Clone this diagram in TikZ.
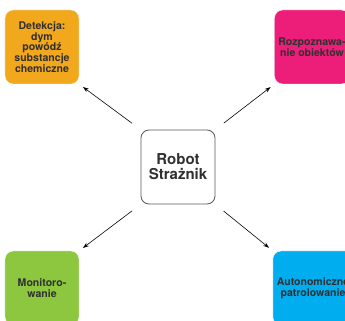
\documentclass[tikz,border=0pt]{standalone}
\usepackage{fontspec}
\setmainfont{TeX Gyre Heros}
\usetikzlibrary{arrows.meta}
\definecolor{detcol}{HTML}{F2A81D}
\definecolor{rozcol}{HTML}{EC1E79}
\definecolor{moncol}{HTML}{8DC63F}
\definecolor{autcol}{HTML}{00AEEF}
\definecolor{txtcol}{HTML}{303030}
\begin{document}
\begin{tikzpicture}[x=0.03cm, y=-0.03cm,
	topic/.style={rectangle, rounded corners=0.24cm, minimum size=2.22cm, draw=white, line width=0.4pt,
		align=center, text=txtcol, font=\fontsize{9}{9.2}\selectfont\bfseries},
	hub/.style={rectangle, rounded corners=0.24cm, minimum size=2.22cm, draw=black!65, fill=white, line width=0.7pt,
		align=center, text=txtcol, font=\fontsize{12.8}{12.8}\selectfont\bfseries},
	link/.style={-{Stealth[length=5pt, width=3.5pt]}, line width=0.5pt, shorten <=9pt, shorten >=4pt}]
		\useasboundingbox (0,0) rectangle (345,321);
		\clip (0,0) rectangle (345,321);

		\node[hub] (robot) at (178,167) {Robot\\Strażnik};

		\node[topic, fill=detcol] (det) at (42,47) {Detekcja:\\dym\\powódź\\substancje\\chemiczne};
		\node[topic, fill=rozcol] (roz) at (312,47) {Rozpoznawa-\\nie obiektów};
		\node[topic, fill=moncol] (mon) at (42,288) {Monitoro-\\wanie};
		\node[topic, fill=autcol] (aut) at (313,288) {Autonomiczne\\patrolowanie};

		\draw[link] (robot.north west) -- (det.south east);
		\draw[link] (robot.north east) -- (roz.south west);
		\draw[link] (robot.south west) -- (mon.north east);
		\draw[link] (robot.south east) -- (aut.north west);

	\end{tikzpicture}
\end{document}
